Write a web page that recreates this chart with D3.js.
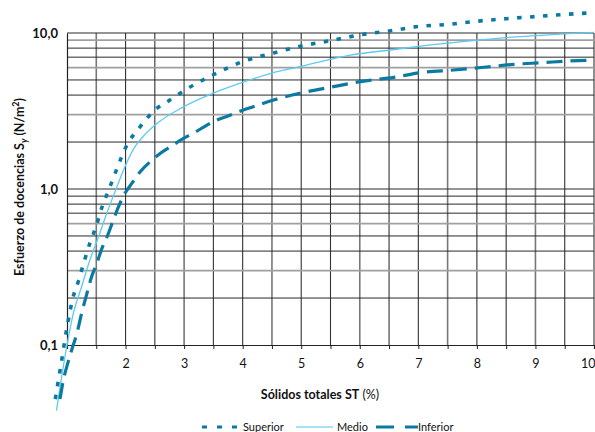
<!DOCTYPE html>
<html>
<head>
<meta charset="utf-8">
<script src="https://cdn.jsdelivr.net/npm/d3@7"></script>
<style>
  html, body { margin: 0; padding: 0; background: #fff; }
  svg { display: block; }
  text { font-family: Lato, "Open Sans", "DejaVu Sans", sans-serif; fill: #111; }
</style>
</head>
<body>
<svg id="chart" width="595" height="432"></svg>
<script>
// ---- Data ----
const supX = [0.80, 0.90, 1.00, 1.10, 1.20, 1.30, 1.40, 1.50, 1.60, 1.70, 1.80, 1.90, 2.00, 2.25, 2.50, 2.75, 3.00, 3.50, 4.00, 4.50, 5.00, 5.50, 6.00, 6.50, 7.00, 7.50, 8.00, 8.50, 9.00, 9.50, 10.0];
const supY = [0.045, 0.076, 0.13, 0.20, 0.26, 0.35, 0.46, 0.58, 0.77, 0.96, 1.20, 1.50, 1.84, 2.51, 3.21, 3.70, 4.27, 5.40, 6.55, 7.40, 8.25, 8.93, 9.72, 10.3, 11.0, 11.35, 11.9, 12.35, 12.75, 13.15, 13.5];

const medX = [0.82, 0.91, 1.00, 1.10, 1.25, 1.39, 1.535, 1.68, 1.82, 2.00, 2.15, 2.30, 2.53, 2.98, 3.50, 3.96, 4.47, 4.98, 5.84, 6.52, 7.21, 8.35, 10.0];
const medY = [0.038, 0.063, 0.10, 0.155, 0.237, 0.35, 0.49, 0.70, 0.96, 1.42, 1.84, 2.17, 2.62, 3.35, 4.12, 4.77, 5.50, 6.08, 7.22, 7.78, 8.38, 9.25, 10.1];

const infX = [0.88, 0.94, 1.02, 1.08, 1.17, 1.25, 1.34, 1.42, 1.51, 1.59, 1.68, 1.79, 1.88, 1.99, 2.11, 2.25, 2.45, 2.59, 2.76, 2.99, 3.16, 3.39, 3.56, 3.73, 4.01, 4.18, 4.53, 4.98, 5.50, 6.01, 6.58, 7.09, 7.60, 8.12, 8.63, 9.11, 9.60, 10.0];
const infY = [0.045, 0.06, 0.078, 0.093, 0.119, 0.16, 0.214, 0.274, 0.334, 0.41, 0.49, 0.63, 0.77, 0.94, 1.09, 1.29, 1.53, 1.69, 1.86, 2.11, 2.28, 2.57, 2.77, 2.92, 3.21, 3.37, 3.72, 4.11, 4.49, 4.88, 5.20, 5.60, 5.79, 6.03, 6.30, 6.45, 6.62, 6.70];

const xTickLabels = ["2", "3", "4", "5", "6", "7", "8", "9", "10"];
const yTickValues = [0.1, 1, 10];
const yTickLabels = ["0,1", "1,0", "10,0"];
const seriesNames = ["Superior", "Medio", "Inferior"];

// ---- Layout ----
const svg = d3.select("#chart");
const x = d3.scaleLinear().domain([1, 10]).range([67, 594]);
const y = d3.scaleLog().domain([0.1, 10]).range([345, 33]);

const darkBlue = "#0b7aa3";
const lightBlue = "#5ccaf2";

// Grid: vertical every 0.5
const vGrid = d3.range(1.5, 10.01, 0.5);
svg.append("g").selectAll("line").data(vGrid).join("line")
  .attr("x1", d => x(d)).attr("x2", d => x(d))
  .attr("y1", y(10)).attr("y2", y(0.1))
  .attr("stroke", (d, i) => (i % 3 === 0 ? "#777" : "#333"))
  .attr("stroke-width", (d, i) => (i % 3 === 0 ? 1.6 : 1.1));

// Grid: horizontal log lines
const hGrid = [];
[0.1, 1].forEach(dec => { for (let k = 2; k <= 10; k++) hGrid.push(+(dec * k).toFixed(3)); });
const grayVals = [0.3, 0.6, 3, 6, 9];
svg.append("g").selectAll("line").data(hGrid).join("line")
  .attr("x1", x(1)).attr("x2", x(10))
  .attr("y1", d => y(d)).attr("y2", d => y(d))
  .attr("stroke", d => grayVals.some(g => Math.abs(g - d) < 1e-6) ? "#a0a0a0" : "#2a2a2a")
  .attr("stroke-width", d => grayVals.some(g => Math.abs(g - d) < 1e-6) ? 1.8 : 1);

// Axes
const xAxis = d3.axisBottom(x)
  .tickValues(d3.range(1, 10.01, 0.5))
  .tickSize(4)
  .tickFormat(d => Number.isInteger(d) && d >= 2 ? xTickLabels[d - 2] : "");
const gx = svg.append("g").attr("transform", `translate(0,${y(0.1)})`).call(xAxis);
gx.select(".domain").attr("stroke", "#222").attr("stroke-width", 1.2);
gx.selectAll(".tick line").attr("stroke", "#222");
gx.selectAll(".tick text").attr("dy", "1.25em").style("font-size", "12.5px").style("font-family", "Lato, 'Open Sans', sans-serif").attr("fill", "#111");
// keep the last label ("10") inside the window
gx.selectAll(".tick text").filter(d => d === 10).attr("text-anchor", "end").attr("x", 1);

const yAxis = d3.axisLeft(y).tickValues(yTickValues).tickSize(0)
  .tickFormat((d, i) => yTickLabels[i]);
const gy = svg.append("g").attr("transform", `translate(${x(1)},0)`).call(yAxis);
gy.select(".domain").attr("stroke", "#222").attr("stroke-width", 1.2);
gy.selectAll(".tick text").attr("x", -9).style("font-size", "13px").style("font-weight", "bold")
  .style("font-family", "Lato, 'Open Sans', sans-serif").attr("fill", "#111");

// Curves
const line = d3.line().x(d => x(d[0])).y(d => y(d[1])).curve(d3.curveMonotoneX);
const zip = (xs, ys) => xs.map((v, i) => [v, ys[i]]);

svg.append("path").datum(zip(medX, medY)).attr("d", line)
  .attr("fill", "none").attr("stroke", lightBlue).attr("stroke-width", 1.3);
svg.append("path").datum(zip(infX, infY)).attr("d", line)
  .attr("fill", "none").attr("stroke", darkBlue).attr("stroke-width", 3.2)
  .attr("stroke-dasharray", "16,8");
svg.append("path").datum(zip(supX, supY)).attr("d", line)
  .attr("fill", "none").attr("stroke", darkBlue).attr("stroke-width", 3.6)
  .attr("stroke-dasharray", "4.5,8.5");

// Axis titles
const yt = svg.append("text")
  .attr("transform", "translate(24,187) rotate(-90)")
  .attr("text-anchor", "middle")
  .style("font-size", "12.5px").style("font-weight", "bold");
yt.append("tspan").text("Esfuerzo de docencias S");
yt.append("tspan").attr("dy", 3).style("font-size", "9px").style("font-style", "italic").text("y");
yt.append("tspan").attr("dy", -3).text(" (N/m");
yt.append("tspan").attr("dy", -5).style("font-size", "9px").text("2");
yt.append("tspan").attr("dy", 5).text(")");

const xt = svg.append("text").attr("x", 320).attr("y", 399).attr("text-anchor", "middle")
  .style("font-size", "12.5px");
xt.append("tspan").style("font-weight", "bold").text("Sólidos totales ST");
xt.append("tspan").text(" (%)");

// Legend
const legendY = 427;
const legend = [
  { name: seriesNames[0], x1: 202, x2: 240, tx: 243, color: darkBlue, w: 3.2, dash: "5,10" },
  { name: seriesNames[1], x1: 296, x2: 333, tx: 337, color: "#a9e0f6", w: 2, dash: null },
  { name: seriesNames[2], x1: 376, x2: 418, tx: 418, color: darkBlue, w: 3.2, dash: "18,11" }
];
const lg = svg.append("g");
legend.forEach(l => {
  lg.append("line").attr("x1", l.x1).attr("x2", l.x2).attr("y1", legendY).attr("y2", legendY)
    .attr("stroke", l.color).attr("stroke-width", l.w).attr("stroke-dasharray", l.dash);
  lg.append("text").attr("x", l.tx).attr("y", legendY + 4).style("font-size", "11px").text(l.name);
});
</script>
</body>
</html>
